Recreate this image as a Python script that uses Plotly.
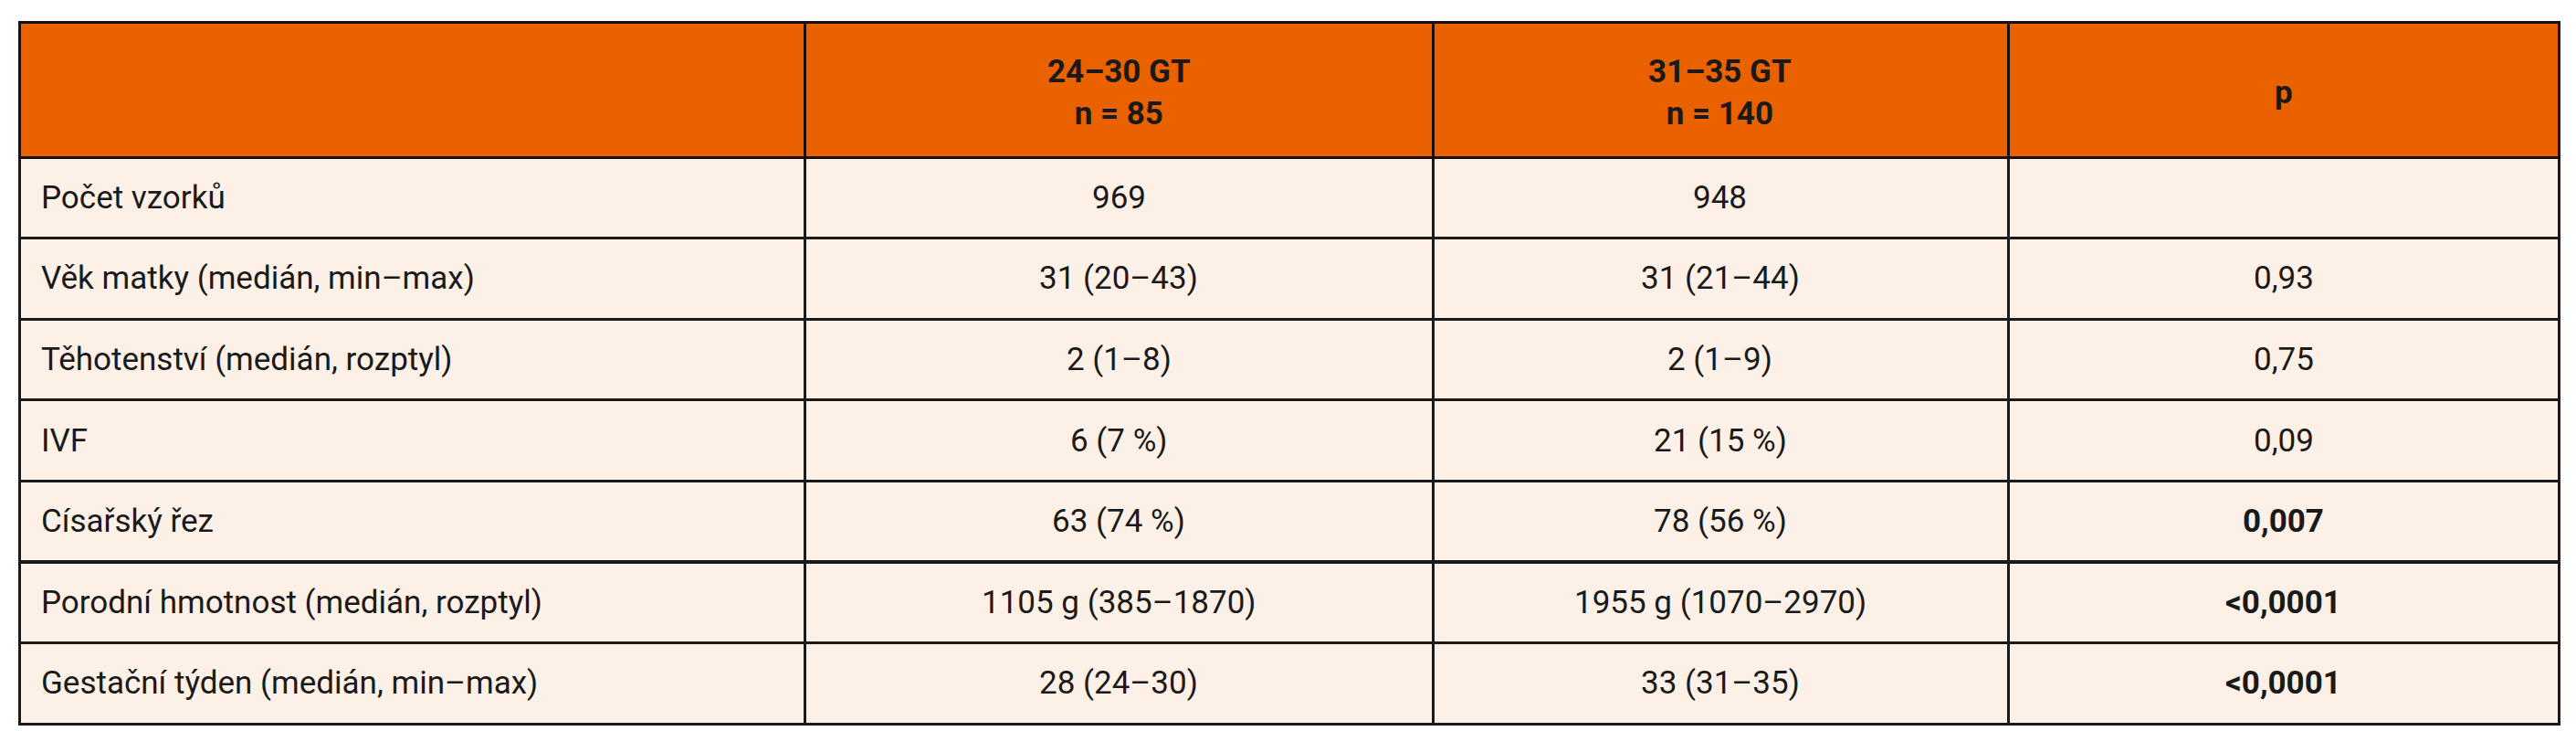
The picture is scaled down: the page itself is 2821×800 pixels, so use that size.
import plotly.graph_objects as go

header = ["", "<b>24–30 GT</b><br><b>n = 85</b>", "<b>31–35 GT</b><br><b>n = 140</b>", "<b>p</b>"]
labels = ["Počet vzorků", "Věk matky (medián, min–max)", "Těhotenství (medián, rozptyl)", "IVF",
          "Císařský řez", "Porodní hmotnost (medián, rozptyl)", "Gestační týden (medián, min–max)"]
g1 = ["969", "31 (20–43)", "2 (1–8)", "6 (7 %)", "63 (74 %)", "1105 g (385–1870)", "28 (24–30)"]
g2 = ["948", "31 (21–44)", "2 (1–9)", "21 (15 %)", "78 (56 %)", "1955 g (1070–2970)", "33 (31–35)"]
pvals = ["", "0,93", "0,75", "0,09", "<b>0,007</b>", "<b>&lt;0,0001</b>", "<b>&lt;0,0001</b>"]

W, H = 2821, 800
LEFT, RIGHT, TOP = 13, 2794, 16
HEAD_H, ROW_H = 148, 88.6
colw = [860, 688, 630, 603]
FONT = "Roboto"
FS = 35

n = len(labels)
fig = go.Figure(go.Table(
    columnwidth=colw,
    header=dict(values=[""] * 4, fill_color="#EA6200", line=dict(color="#1a1010", width=3), height=HEAD_H),
    cells=dict(values=[[""] * n] * 4, fill_color="#FDF1E7", line=dict(color="#1a1a1a", width=3),
               height=ROW_H),
    domain=dict(x=[LEFT / W, RIGHT / W], y=[0, 1 - TOP / H]),
))

tot = sum(colw)
edges = [LEFT]
for w in colw:
    edges.append(edges[-1] + w / tot * (RIGHT - LEFT))
centers = [(edges[i] + edges[i + 1]) / 2 for i in range(4)]

ann = []
for j in range(1, 4):
    ann.append(dict(x=centers[j] / W, y=1 - (TOP + HEAD_H / 2 + 4) / H, text=header[j],
                    xanchor="center", yanchor="middle", showarrow=False,
                    font=dict(family=FONT, size=FS, color="#1a1a1a")))
cols = [labels, g1, g2, pvals]
for i in range(n):
    yc = TOP + HEAD_H + (i + 0.5) * ROW_H
    for j in range(4):
        if j == 0:
            x, xa = (edges[0] + 22) / W, "left"
        else:
            x, xa = centers[j] / W, "center"
        ann.append(dict(x=x, y=1 - yc / H, text=cols[j][i], xanchor=xa, yanchor="middle",
                        showarrow=False, font=dict(family=FONT, size=FS, color="#1a1a1a")))

fig.update_layout(width=W, height=H, margin=dict(l=0, r=0, t=0, b=0), paper_bgcolor="white",
                  annotations=ann)
fig.write_html("out.html")
